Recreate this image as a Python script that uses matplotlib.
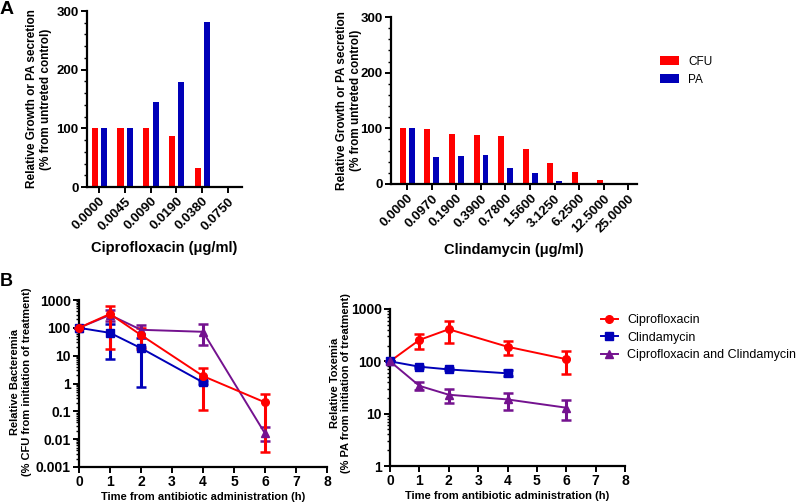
import numpy as np
import matplotlib
matplotlib.use("Agg")
import matplotlib.pyplot as plt
from matplotlib.lines import Line2D
from matplotlib.ticker import MultipleLocator, FixedLocator, FixedFormatter, LogLocator, NullFormatter

plt.rcParams["font.family"] = ["Liberation Sans", "DejaVu Sans"]

RED = "#ff0000"
BLUE = "#0000b8"
PURPLE = "#74128f"

# --- Panel A data ---
cipro_doses = ["0.0000", "0.0045", "0.0090", "0.0190", "0.0380", "0.0750"]
cipro_cfu = [100, 100, 100, 87, 33, 2]
cipro_pa = [100, 100, 145, 179, 281, 2]

clinda_doses = ["0.0000", "0.0970", "0.1900", "0.3900", "0.7800", "1.5600",
                "3.1250", "6.2500", "12.5000", "25.0000"]
clinda_cfu = [100, 98, 89, 88, 87, 62, 38, 22, 8, 1]
clinda_pa = [100, 48, 51, 52, 28, 19, 6, 1, 1, 1]

# --- Panel B data (time in h) ---
bact_cip_t = [0, 1, 2, 4, 6]
bact_cip = [100, 316, 55, 1.85, 0.21]
bact_cip_lo = [100, 17, 17, 0.11, 0.0035]
bact_cip_hi = [100, 630, 95, 3.5, 0.42]

bact_cli_t = [0, 1, 2, 4]
bact_cli = [100, 66, 18.6, 1.1]
bact_cli_lo = [100, 7.4, 0.74, 0.95]
bact_cli_hi = [100, 137, 43, 1.2]

bact_cmb_t = [0, 1, 2, 4, 6]
bact_cmb = [100, 290, 85, 72, 0.016]
bact_cmb_lo = [100, 180, 20, 24, 0.0083]
bact_cmb_hi = [100, 450, 130, 133, 0.027]

tox_cip_t = [0, 1, 2, 4, 6]
tox_cip = [100, 256, 410, 190, 110]
tox_cip_lo = [100, 170, 220, 135, 58]
tox_cip_hi = [100, 330, 590, 245, 160]

tox_cli_t = [0, 1, 2, 4]
tox_cli = [100, 79, 70, 59]
tox_cli_lo = [100, 76, 67, 52]
tox_cli_hi = [100, 82, 73, 67]

tox_cmb_t = [0, 1, 2, 4, 6]
tox_cmb = [100, 34, 23, 18.7, 13]
tox_cmb_lo = [100, 28, 16, 12, 7.6]
tox_cmb_hi = [100, 41, 30, 25, 18.6]


def style_axes(ax, xsize=10, ysize=9.5):
    for s in ["top", "right"]:
        ax.spines[s].set_visible(False)
    for s in ["left", "bottom"]:
        ax.spines[s].set_linewidth(1.6)
    ax.tick_params(which="major", length=4, width=1.4)
    ax.tick_params(axis="y", pad=2, labelsize=ysize)
    ax.tick_params(axis="x", labelsize=xsize, pad=2)
    ax.tick_params(which="minor", length=2.5, width=1.0)
    for lab in ax.get_xticklabels() + ax.get_yticklabels():
        lab.set_fontweight("bold")


def bar_panel(ax, doses, cfu, pa, xlabel, xlim):
    x = np.arange(len(doses))
    ax.bar(x - 0.17, cfu, width=0.24, color=RED, label="CFU")
    ax.bar(x + 0.19, pa, width=0.24, color=BLUE, label="PA")
    ax.set_xlim(*xlim)
    ax.set_ylim(0, 300)
    ax.yaxis.set_major_locator(MultipleLocator(100))
    ax.yaxis.set_minor_locator(MultipleLocator(20))
    ax.set_xticks(x)
    ax.set_xticklabels(doses, rotation=45, ha="right", rotation_mode="anchor")
    style_axes(ax, xsize=9.5)
    ax.set_xlabel(xlabel, fontsize=10.5, fontweight="bold", labelpad=6)
    ax.set_ylabel("Relative Growth or PA secretion\n(% from untreted control)",
                  fontsize=8.5, fontweight="bold")


def err(y, lo, hi):
    y = np.array(y)
    return [y - np.array(lo), np.array(hi) - y]


def line_panel(ax, series, ylim, yticks, ylabel):
    handles = []
    for t, y, lo, hi, color, marker, label in series:
        ax.errorbar(t, y, yerr=err(y, lo, hi), color=color, marker=marker,
                    markersize=5.5, linewidth=1.4, elinewidth=2.2, capsize=3.5,
                    capthick=1.8, clip_on=False, zorder=3)
        handles.append(Line2D([], [], color=color, marker=marker, markersize=5.5,
                              linewidth=1.4, label=label))
    ax.set_yscale("log")
    ax.set_ylim(*ylim)
    ax.set_xlim(0, 8)
    ax.xaxis.set_major_locator(MultipleLocator(1))
    ax.yaxis.set_major_locator(FixedLocator(yticks))
    ax.yaxis.set_major_formatter(FixedFormatter([("%g" % v) for v in yticks]))
    ax.yaxis.set_minor_locator(LogLocator(base=10, subs=np.arange(2, 10)))
    ax.yaxis.set_minor_formatter(NullFormatter())
    style_axes(ax, ysize=10)
    ax.set_xlabel("Time from antibiotic administration (h)", fontsize=8,
                  fontweight="bold", labelpad=2)
    ax.set_ylabel(ylabel, fontsize=8, fontweight="bold")
    return handles


fig = plt.figure(figsize=(8.0, 5.04), dpi=100)

ax1 = fig.add_axes([87 / 800, 1 - 187 / 504, 155 / 800, 176 / 504])
bar_panel(ax1, cipro_doses, cipro_cfu, cipro_pa, "Ciprofloxacin (\u03bcg/ml)", (-0.47, 5.54))
ax1.yaxis.set_label_coords(-0.225, 0.5)

ax2 = fig.add_axes([391 / 800, 1 - 184 / 504, 246 / 800, 167 / 504])
bar_panel(ax2, clinda_doses, clinda_cfu, clinda_pa, "Clindamycin (\u03bcg/ml)", (-0.65, 9.35))
ax2.yaxis.set_label_coords(-0.118, 0.5)
ax2.legend(loc="upper left", bbox_to_anchor=(1.05, 0.83), frameon=False, fontsize=8.5,
           handlelength=1.6, handleheight=0.8, labelspacing=0.5)

ax3 = fig.add_axes([79 / 800, 1 - 467 / 504, 248 / 800, 167 / 504])
line_panel(ax3, [
    (bact_cmb_t, bact_cmb, bact_cmb_lo, bact_cmb_hi, PURPLE, "^", "Ciprofloxacin and Clindamycin"),
    (bact_cli_t, bact_cli, bact_cli_lo, bact_cli_hi, BLUE, "s", "Clindamycin"),
    (bact_cip_t, bact_cip, bact_cip_lo, bact_cip_hi, RED, "o", "Ciprofloxacin"),
], (0.001, 1000), [0.001, 0.01, 0.1, 1, 10, 100, 1000],
    "Relative Bacteremia\n(% CFU from initiation of treatment)")
ax3.yaxis.set_label_coords(-0.19, 0.51)

ax4 = fig.add_axes([390 / 800, 1 - 466 / 504, 235 / 800, 157 / 504])
tox_handles = line_panel(ax4, [
    (tox_cip_t, tox_cip, tox_cip_lo, tox_cip_hi, RED, "o", "Ciprofloxacin"),
    (tox_cli_t, tox_cli, tox_cli_lo, tox_cli_hi, BLUE, "s", "Clindamycin"),
    (tox_cmb_t, tox_cmb, tox_cmb_lo, tox_cmb_hi, PURPLE, "^", "Ciprofloxacin and Clindamycin"),
], (1, 1000), [1, 10, 100, 1000],
    "Relative Toxemia\n(% PA from initiation of treatment)")
ax4.yaxis.set_label_coords(-0.165, 0.53)
ax4.legend(handles=tox_handles, loc="upper left", bbox_to_anchor=(0.85, 1.04),
           frameon=False, fontsize=9, handlelength=1.35, handletextpad=0.75,
           labelspacing=0.45)

fig.text(0 / 800, 1 - 14 / 504, "A", fontsize=14, fontweight="bold")
fig.text(0 / 800, 1 - 286 / 504, "B", fontsize=13, fontweight="bold")

fig.savefig("out.png", dpi=100)
